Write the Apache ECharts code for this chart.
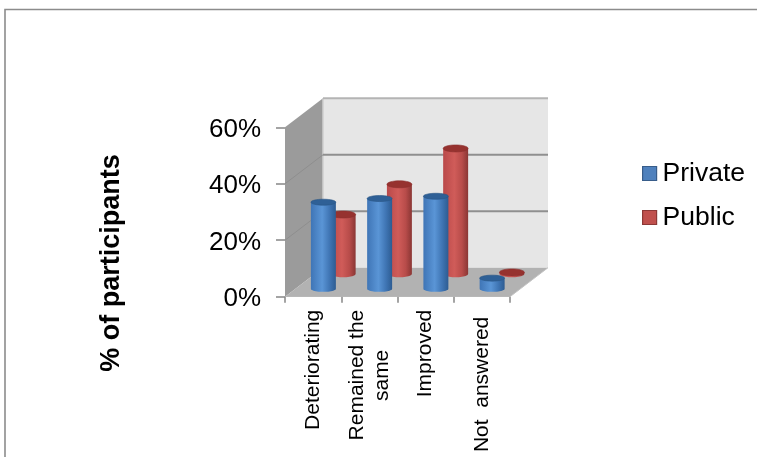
<!DOCTYPE html>
<html>
<head>
<meta charset="utf-8">
<style>html,body{margin:0;padding:0;background:#fff}#c{width:757px;height:457px;filter:blur(0.4px)}</style>
<script src="https://cdn.jsdelivr.net/npm/echarts@6/dist/echarts.min.js"></script>
</head>
<body>
<div id="c"></div>
<script>
const categories = ['Deteriorating', 'Remained the\nsame', 'Improved', 'Not  answered'];
const privateValues = [30.7, 32, 32.8, 3.8];
const publicValues = [21, 31.7, 44.4, 0.5];
const yTicks = [0, 20, 40, 60];
const seriesNames = ['Private', 'Public'];
const axisTitle = '% of participants';

const DEPTH_X = 38, DEPTH_Y = -29;
const FONT = '"Liberation Sans", Arial, sans-serif';

function ellipsePts(cx, cy, rx, ry, from, to, n) {
  const p = [];
  for (let i = 0; i <= n; i++) {
    const a = from + (to - from) * i / n;
    p.push([cx + rx * Math.cos(a), cy + ry * Math.sin(a)]);
  }
  return p;
}

function hGrad(stops) {
  return new echarts.graphic.LinearGradient(0, 0, 1, 0,
    stops.map(s => ({ offset: s[0], color: s[1] })));
}

function cylinder(depth, ry, body, topFill, topStroke) {
  return function (params, api) {
    const w = api.size([1, 0])[0];
    const rx = w * 0.222;
    const base = api.coord([api.value(0), 0]);
    const top = api.coord([api.value(0), api.value(1)]);
    const cx = base[0] + DEPTH_X * depth;
    const by = base[1] + DEPTH_Y * depth;
    const ty = top[1] + DEPTH_Y * depth;
    const pts = [[cx - rx, ty]].concat(
      [[cx + rx, ty]],
      ellipsePts(cx, by, rx, ry, 0, Math.PI, 24)
    );
    return {
      type: 'group',
      children: [
        { type: 'polygon', shape: { points: pts }, style: { fill: hGrad(body) } },
        { type: 'polygon', shape: { points: ellipsePts(cx, ty, rx, ry, 0, Math.PI * 2, 32) },
          style: { fill: topFill, stroke: topStroke, lineWidth: 0.6 } }
      ]
    };
  };
}

function renderWalls(params, api) {
  const w = api.size([1, 0])[0];
  const x0 = api.coord([0, 0])[0] - w / 2;
  const x1 = api.coord([categories.length - 1, 0])[0] + w / 2;
  const y0 = api.coord([0, yTicks[0]])[1];
  const yT = api.coord([0, yTicks[yTicks.length - 1]])[1];
  const bx0 = x0 + DEPTH_X, bx1 = x1 + DEPTH_X;
  const children = [
    { type: 'polygon', shape: { points: [[bx0, y0 + DEPTH_Y], [bx1, y0 + DEPTH_Y], [bx1, yT + DEPTH_Y], [bx0, yT + DEPTH_Y]] },
      style: { fill: '#e6e6e6' } },
    { type: 'polygon', shape: { points: [[x0, y0], [x0, yT], [bx0, yT + DEPTH_Y], [bx0, y0 + DEPTH_Y]] },
      style: { fill: '#9b9b9b' } },
    { type: 'polygon', shape: { points: [[x0, y0], [x1, y0], [bx1, y0 + DEPTH_Y], [bx0, y0 + DEPTH_Y]] },
      style: { fill: '#b2b2b2' } },
    { type: 'line', shape: { x1: bx0, y1: yT + DEPTH_Y, x2: bx0, y2: y0 + DEPTH_Y },
      style: { stroke: '#cfcfcf', lineWidth: 1.5 } }
  ];
  yTicks.forEach((t, i) => {
    if (i === 0) return;
    const y = api.coord([0, t])[1];
    const last = i === yTicks.length - 1;
    children.push({ type: 'line', shape: { x1: bx0, y1: y + DEPTH_Y, x2: bx1, y2: y + DEPTH_Y },
      style: { stroke: last ? '#b4b4b4' : '#8f8f8f', lineWidth: 2 } });
    if (!last) children.push({ type: 'line', shape: { x1: x0, y1: y, x2: bx0, y2: y + DEPTH_Y },
      style: { stroke: '#8e8e8e', lineWidth: 1 } });
  });
  children.push({ type: 'polyline', shape: { points: [[x1, y0], [bx1, y0 + DEPTH_Y]] },
    style: { stroke: '#c4c4c4', fill: 'none', lineWidth: 1 } });
  return { type: 'group', children };
}

const toData = arr => arr.map((v, i) => [i, v]);

const labelRich = {
  base: { fontSize: 21, fontFamily: FONT, color: '#000', lineHeight: 25 },
  same: { fontSize: 21, fontFamily: FONT, color: '#000', lineHeight: 25, padding: [0, 40, 0, 0] },
  shift: { fontSize: 21, fontFamily: FONT, color: '#000', lineHeight: 25, padding: [0, 7, 0, 0] }
};
function labelFmt(v) {
  return v.split('\n').map(line => {
    if (line === 'same') return '{same|' + line + '}';
    if (line.indexOf('Not') === 0) return '{shift|' + line + '}';
    return '{base|' + line + '}';
  }).join('\n');
}

const chart = echarts.init(document.getElementById('c'), null, { renderer: 'canvas' });
chart.setOption({
  animation: false,
  backgroundColor: '#ffffff',
  grid: { left: 285, right: 247, top: 127.3, bottom: 160.3, containLabel: false },
  legend: {
    left: 642, top: 160, orient: 'vertical', itemWidth: 14, itemHeight: 14, itemGap: 17, padding: 0,
    selectedMode: false,
    textStyle: { fontSize: 26.5, fontFamily: FONT, color: '#000', padding: [0, 0, 0, 1] },
    data: [
      { name: seriesNames[0], icon: 'rect', itemStyle: { color: '#4f81bd', borderColor: '#385d8a', borderWidth: 1.2 } },
      { name: seriesNames[1], icon: 'rect', itemStyle: { color: '#c0504d', borderColor: '#8c3836', borderWidth: 1.2 } }
    ]
  },
  xAxis: {
    type: 'category', data: categories,
    axisLine: { show: true, lineStyle: { color: '#c8c8c8', width: 1 } },
    axisTick: { show: true, length: 6, lineStyle: { color: '#868686', width: 1.5 } },
    axisLabel: { rotate: 90, margin: 13, interval: 0, formatter: labelFmt, rich: labelRich, hideOverlap: false }
  },
  yAxis: {
    type: 'value', min: 0, max: 60, interval: 20,
    name: axisTitle, nameLocation: 'middle', nameGap: 160, nameRotate: 90,
    nameTextStyle: { fontSize: 27, fontWeight: 'bold', fontFamily: FONT, color: '#000', padding: [0, 102, 0, 0] },
    axisLine: { show: false },
    axisTick: { show: true, length: 9, lineStyle: { color: '#868686', width: 1.5 } },
    splitLine: { show: false },
    axisLabel: { margin: 24, formatter: v => '{t|' + v + '%}',
      rich: { t: { fontSize: 26, fontFamily: FONT, color: '#000', padding: [5, 0, 0, 0] } } }
  },
  series: [
    { type: 'custom', name: 'walls', silent: true, clip: false, z: 1, renderItem: renderWalls,
      data: [[0, 0]], encode: { x: 0, y: 1 } },
    { type: 'custom', name: seriesNames[1], clip: false, z: 2, itemStyle: { color: '#c0504d' },
      renderItem: cylinder(0.79, 3.5, [[0, '#b9494a'], [0.45, '#d05c59'], [0.75, '#b84c4a'], [1, '#8a3634']], '#96322f', '#8a2f2d'),
      data: toData(publicValues), encode: { x: 0, y: 1 } },
    { type: 'custom', name: seriesNames[0], clip: false, z: 3, itemStyle: { color: '#4f81bd' },
      renderItem: cylinder(0.27, 3, [[0, '#3f75b6'], [0.45, '#5a95d6'], [0.75, '#3f75b4'], [1, '#2d5c92']], '#2f6096', '#2a5584'),
      data: toData(privateValues), encode: { x: 0, y: 1 } }
  ],
  graphic: [
    { type: 'polyline', silent: true, z: 10,
      shape: { points: [[5, 457], [5, 9.5], [757, 9.5]] },
      style: { stroke: '#8c8c8c', fill: 'none', lineWidth: 1.6 } }
  ]
});
</script>
</body>
</html>
